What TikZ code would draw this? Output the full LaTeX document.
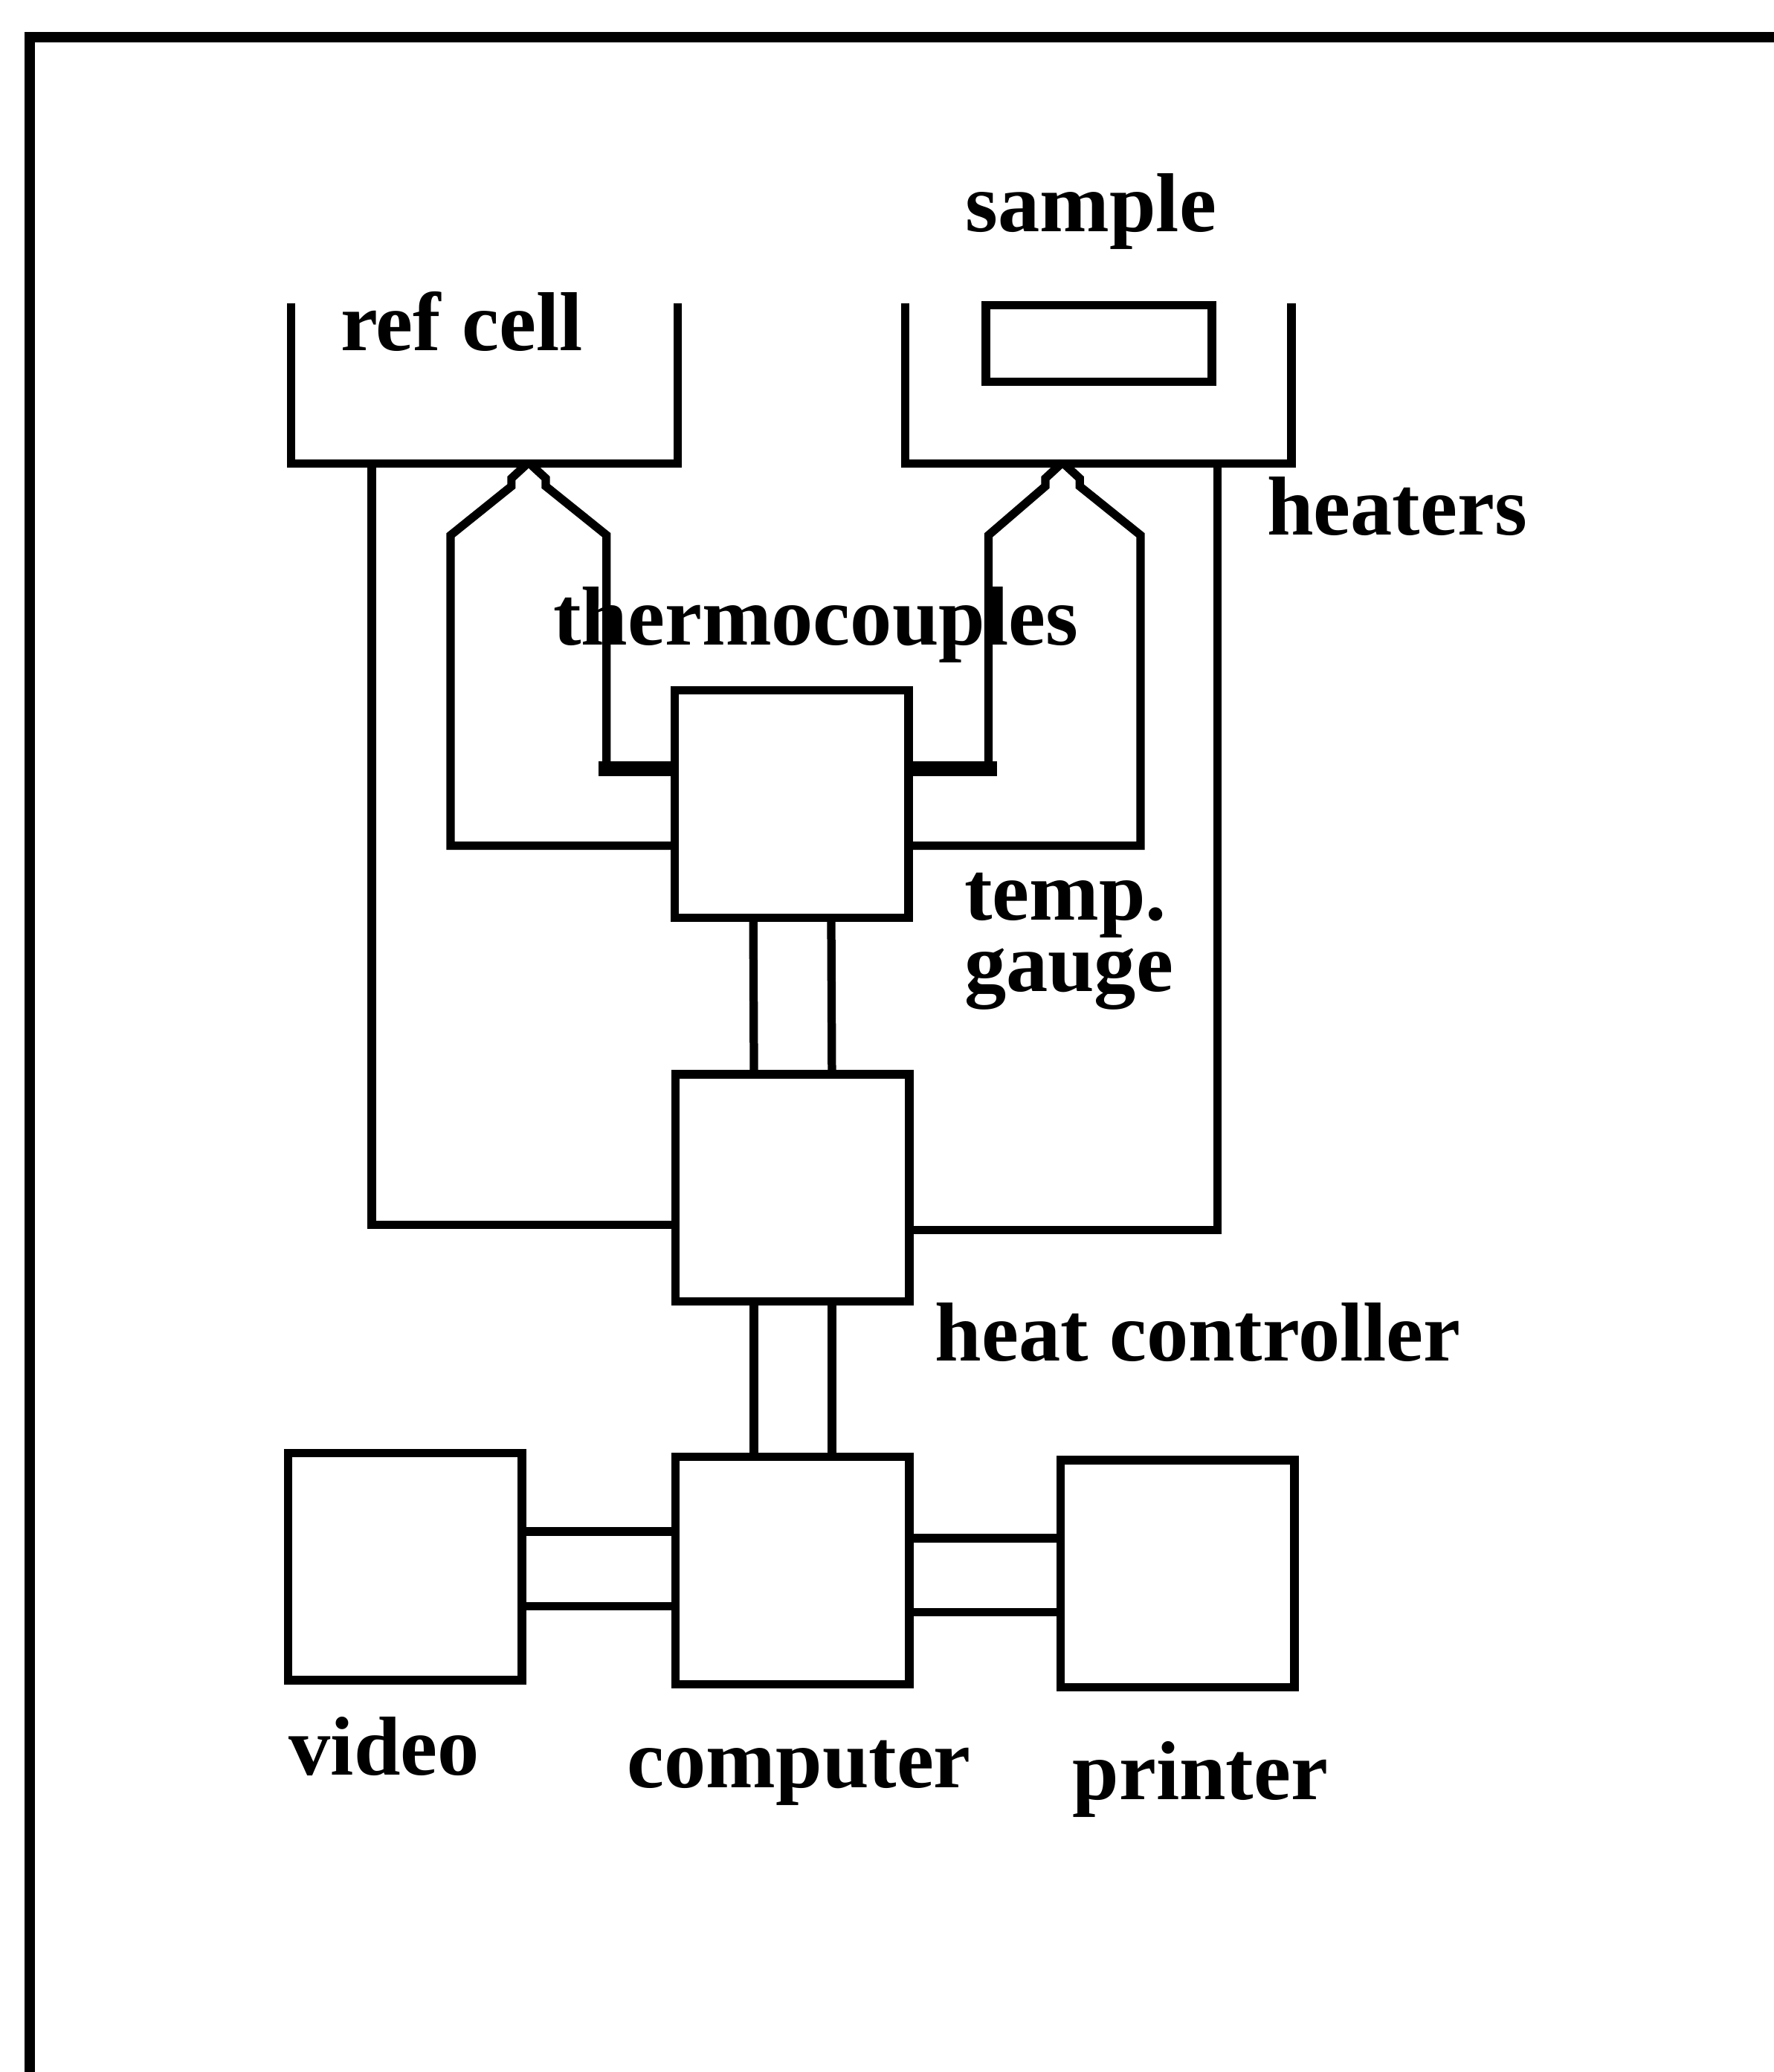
\documentclass[tikz,border=0pt]{standalone}
\usepackage{fontspec}
\setmainfont{Liberation Serif}
\usetikzlibrary{calc}
\tikzset{
  unit/.style={rectangle, draw=black, line width=1.8pt, inner sep=0pt,
               minimum width=1.77cm, minimum height=1.72cm},
  cell/.style={rectangle, inner sep=0pt, minimum width=2.91cm, minimum height=1.20cm},
  lbl/.style={font=\fontsize{18}{15.3}\selectfont\bfseries, inner sep=0pt, anchor=base west},
  wire/.style={line width=1.8pt, line join=miter},
  wirethick/.style={line width=3.2pt},
  frame/.style={line width=2.2pt},
}

\begin{document}
\begin{tikzpicture}
  \useasboundingbox (0,0) rectangle (13.42,-15.68);
  % outer frame, cut off at the right and bottom
  \draw[frame] (0.225,-16) -- (0.225,-0.28) -- (14,-0.28);

  % Cells, open at the top
  \node[cell] (refcell) at (3.665,-2.90) {};
  \node[cell] (samplecell) at (8.31,-2.90) {};
  \draw[wire] (refcell.north west) -- (refcell.south west) -- (refcell.south east) -- (refcell.north east);
  \draw[wire] (samplecell.north west) -- (samplecell.south west) -- (samplecell.south east) -- (samplecell.north east);
  \node[unit, minimum width=1.71cm, minimum height=0.58cm] (sample) at (8.315,-2.60) {};

  % Boxes
  \node[unit] (tempgauge) at (5.99,-6.085) {};
  \node[unit] (heatctrl) at (5.995,-8.99) {};
  \node[unit] (computer) at (5.995,-11.885) {};
  \node[unit] (video) at (3.065,-11.855) {};
  \node[unit] (printer) at (8.91,-11.91) {};

  % thermocouple tips
  \coordinate (tcref) at (4.00,-3.50);
  \coordinate (tcsample) at (8.04,-3.50);

  % Labels
  \node[lbl] (samplelbl) at (7.30,-1.75) {sample};
  \node[lbl] (reflbl) at (2.57,-2.65) {ref cell};
  \node[lbl] (heaterlbl) at (9.58,-4.05) {heaters};
  \node[lbl] (tclbl) at (4.18,-4.88) {thermocouples};
  \node[lbl, align=left] (gaugelbl) at (7.29,-7.50) {temp.\\gauge};
  \node[lbl] (heatlbl) at (7.07,-10.30) {heat controller};
  \node[lbl] (videolbl) at (2.18,-13.43) {video};
  \node[lbl] (complbl) at (4.74,-13.53) {computer};
  \node[lbl] (printlbl) at (8.11,-13.62) {printer};

  % Thermocouples
  \draw[wire] (tcref) -- ++(-0.13,-0.12) -- ++(0,-0.06) -- (3.41,-4.05) |- ([yshift=-3.15mm]tempgauge.west);
  \draw[wire] (tcref) -- ++(0.13,-0.12) -- ++(0,-0.06) -- (4.59,-4.05) |- ([yshift=2.65mm]tempgauge.west);
  \draw[wirethick] ([yshift=2.65mm]tempgauge.west) -- +(-0.545,0);
  \draw[wire] (tcsample) -- ++(-0.13,-0.12) -- ++(0,-0.06) -- (7.48,-4.05) |- ([yshift=2.65mm]tempgauge.east);
  \draw[wire] (tcsample) -- ++(0.13,-0.12) -- ++(0,-0.06) -- (8.63,-4.05) |- ([yshift=-3.15mm]tempgauge.east);
  \draw[wirethick] ([yshift=2.65mm]tempgauge.east) -- +(0.637,0);

  % Heaters
  \draw[wire] ([xshift=6.1mm]refcell.south west) |- ([yshift=-2.8mm]heatctrl.west);
  \draw[wire] ([xshift=-5.6mm]samplecell.south east) |- ([yshift=-3.2mm]heatctrl.east);

  % Cables
  \foreach \dx in {-2.9mm, 3mm} {
    \draw[wire] ([xshift=\dx]tempgauge.south) -- ([xshift=\dx]heatctrl.north);
    \draw[wire] ([xshift=\dx]heatctrl.south) -- ([xshift=\dx]computer.north);
  }
  \foreach \dy in {2.95mm, -2.7mm} {
    \draw[wire] ($(computer.west)+(0,\dy)$) -- ($(video.east |- computer.west)+(0,\dy)$);
  }
  \foreach \dy in {2.45mm, -3.15mm} {
    \draw[wire] ($(computer.east)+(0,\dy)$) -- ($(printer.west |- computer.east)+(0,\dy)$);
  }
\end{tikzpicture}
\end{document}
